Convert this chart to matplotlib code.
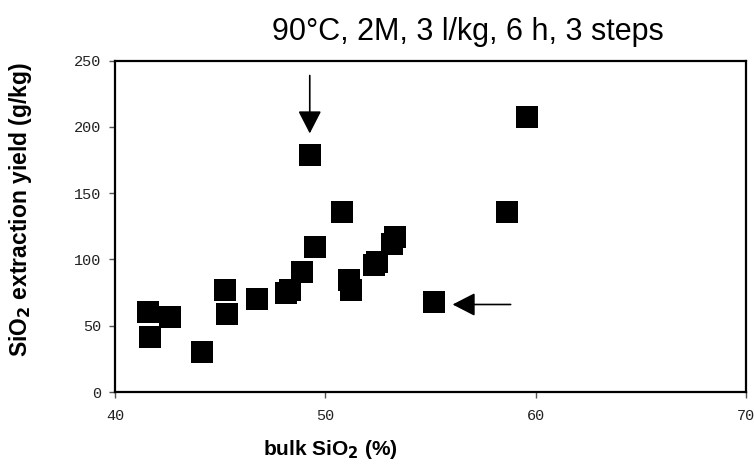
import matplotlib
matplotlib.use('Agg')
import matplotlib.pyplot as plt

# bulk SiO2 (%) vs SiO2 extraction yield (g/kg)
bulk_sio2 = [41.55, 42.6, 41.66, 44.15, 45.23, 45.33, 46.77, 48.13, 48.32,
             48.91, 49.5, 49.26, 50.8, 51.14, 51.2, 52.3, 52.45, 53.19, 53.3,
             55.19, 58.64, 59.59]
yield_gkg = [60.5, 56.7, 41.6, 30.4, 77.3, 58.7, 69.8, 74.5, 77.3,
             90.6, 109.4, 179.0, 135.8, 84.8, 77.3, 95.5, 97.8, 111.4, 116.7,
             68.0, 135.8, 207.3]

x_ticks = [40, 50, 60, 70]
y_ticks = [0, 50, 100, 150, 200, 250]

# arrows: (tail, tip)
arrow_down = ((49.26, 238.7), (49.26, 195.0))
arrow_left = ((58.81, 66.0), (56.05, 66.0))

fig = plt.figure(figsize=(7.54, 4.71), dpi=100)
ax = fig.add_axes([0.1525, 0.1677, 0.8369, 0.7038])

ax.plot(bulk_sio2, yield_gkg, linestyle='none', marker='s', ms=16.5,
        color='black', markeredgecolor='black', markeredgewidth=0)

for tail, tip in (arrow_down, arrow_left):
    ax.annotate('', xy=tip, xytext=tail,
                arrowprops=dict(arrowstyle='-|>,head_length=0.7,head_width=0.36',
                                mutation_scale=20, color='black', lw=1.2,
                                shrinkA=0, shrinkB=0))

ax.set_xlim(40, 70)
ax.set_ylim(0, 250)
ax.set_xticks(x_ticks)
ax.set_yticks(y_ticks)
mono = ['Liberation Mono', 'DejaVu Sans Mono']
ax.set_xticklabels([str(v) for v in x_ticks], family=mono, fontsize=11, color='#222222')
ax.set_yticklabels([str(v) for v in y_ticks], family=mono, fontsize=11, color='#222222')
ax.tick_params(axis='both', direction='out', length=4, width=1, colors='#555555',
               labelcolor='#222222')
ax.tick_params(axis='x', pad=8)
ax.tick_params(axis='y', pad=6)
for s in ax.spines.values():
    s.set_linewidth(1.6)
    s.set_color('black')

sans = ['Liberation Sans', 'DejaVu Sans']
fig.text(0.62, 0.932, '90°C, 2M, 3 l/kg, 6 h, 3 steps', ha='center', va='center',
         fontsize=22, family=['Liberation Sans Narrow', 'Liberation Sans', 'DejaVu Sans'])
fig.text(0.438, 0.045, 'bulk SiO$_\\mathbf{2}$ (%)', ha='center', va='center',
         fontsize=15, fontweight='bold', family=sans)
fig.text(0.027, 0.555, 'SiO$_\\mathbf{2}$ extraction yield (g/kg)', ha='center', va='center',
         rotation=90, fontsize=16.5, fontweight='bold', family=sans)

plt.savefig('out.png', dpi=100)
plt.close()
